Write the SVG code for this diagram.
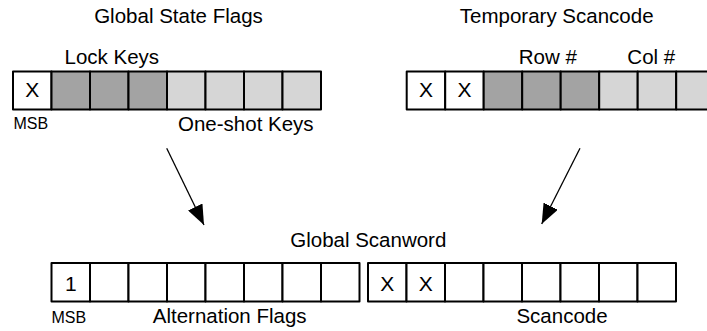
<svg xmlns="http://www.w3.org/2000/svg" width="707" height="331" viewBox="0 0 707 331">
  <style>
    text { font-family: "Liberation Sans", Arial, Helvetica, sans-serif; fill: #000; }
    .lbl { font-size: 20.5px; }
    .bit { font-size: 21px; text-anchor: middle; }
    .msb { font-size: 16px; }
    .mid { text-anchor: middle; }
    .cell { stroke: #000; stroke-width: 2; stroke-linejoin: round; }
    .w { fill: #fff; }
    .dk { fill: #a3a3a3; }
    .lt { fill: #d6d6d6; }
    .arrow { stroke: #000; stroke-width: 1.3; fill: none; marker-end: url(#head); }
  </style>
  <defs>
    <marker id="head" markerUnits="userSpaceOnUse" markerWidth="21" markerHeight="16" refX="20" refY="8" orient="auto">
      <path d="M0,0 L20,8 L0,16 z" fill="#000"/>
    </marker>
  </defs>
  <rect width="707" height="331" fill="#fff"/>

  <!-- Global State Flags register -->
  <g id="global-state-flags">
    <text class="lbl mid" x="178.5" y="22.7">Global State Flags</text>
    <text class="lbl" x="64.5" y="64">Lock Keys</text>
    <rect class="cell w"  x="13"    y="71.5" width="38.5" height="38"/>
    <rect class="cell dk" x="51.5"  y="71.5" width="38.5" height="38"/>
    <rect class="cell dk" x="90"    y="71.5" width="38.5" height="38"/>
    <rect class="cell dk" x="128.5" y="71.5" width="38.5" height="38"/>
    <rect class="cell lt" x="167"   y="71.5" width="38.5" height="38"/>
    <rect class="cell lt" x="205.5" y="71.5" width="38.5" height="38"/>
    <rect class="cell lt" x="244"   y="71.5" width="38.5" height="38"/>
    <rect class="cell lt" x="282.5" y="71.5" width="38.5" height="38"/>
    <text class="bit" x="32.2" y="97.3">X</text>
    <text class="msb" x="13.5" y="129.3">MSB</text>
    <text class="lbl" x="178" y="130.7">One-shot Keys</text>
  </g>

  <!-- Temporary Scancode register -->
  <g id="temporary-scancode">
    <text class="lbl mid" x="556.7" y="22.7">Temporary Scancode</text>
    <text class="lbl mid" x="547.8" y="64">Row #</text>
    <text class="lbl mid" x="651.3" y="64">Col #</text>
    <rect class="cell w"  x="406.7" y="71.5" width="38.5" height="38"/>
    <rect class="cell w"  x="445.2" y="71.5" width="38.5" height="38"/>
    <rect class="cell dk" x="483.7" y="71.5" width="38.5" height="38"/>
    <rect class="cell dk" x="522.2" y="71.5" width="38.5" height="38"/>
    <rect class="cell dk" x="560.7" y="71.5" width="38.5" height="38"/>
    <rect class="cell lt" x="599.2" y="71.5" width="38.5" height="38"/>
    <rect class="cell lt" x="637.7" y="71.5" width="38.5" height="38"/>
    <rect class="cell lt" x="676.2" y="71.5" width="38.5" height="38"/>
    <text class="bit" x="426" y="97.3">X</text>
    <text class="bit" x="464.5" y="97.3">X</text>
  </g>

  <!-- Global Scanword register -->
  <g id="global-scanword">
    <text class="lbl mid" x="368.3" y="246.7">Global Scanword</text>
    <rect class="cell w" x="51.5"  y="263" width="38.5" height="38.5"/>
    <rect class="cell w" x="90"    y="263" width="38.5" height="38.5"/>
    <rect class="cell w" x="128.5" y="263" width="38.5" height="38.5"/>
    <rect class="cell w" x="167"   y="263" width="38.5" height="38.5"/>
    <rect class="cell w" x="205.5" y="263" width="38.5" height="38.5"/>
    <rect class="cell w" x="244"   y="263" width="38.5" height="38.5"/>
    <rect class="cell w" x="282.5" y="263" width="38.5" height="38.5"/>
    <rect class="cell w" x="321"   y="263" width="38.5" height="38.5"/>
    <rect class="cell w" x="368"   y="263" width="38.5" height="38.5"/>
    <rect class="cell w" x="406.5" y="263" width="38.5" height="38.5"/>
    <rect class="cell w" x="445"   y="263" width="38.5" height="38.5"/>
    <rect class="cell w" x="483.5" y="263" width="38.5" height="38.5"/>
    <rect class="cell w" x="522"   y="263" width="38.5" height="38.5"/>
    <rect class="cell w" x="560.5" y="263" width="38.5" height="38.5"/>
    <rect class="cell w" x="599"   y="263" width="38.5" height="38.5"/>
    <rect class="cell w" x="637.5" y="263" width="38.5" height="38.5"/>
    <text class="bit" x="70.8" y="290.7">1</text>
    <text class="bit" x="387.3" y="290.7">X</text>
    <text class="bit" x="425.8" y="290.7">X</text>
    <text class="msb" x="51.5" y="322.7">MSB</text>
    <text class="lbl mid" x="229.7" y="322.5">Alternation Flags</text>
    <text class="lbl mid" x="562" y="322.7">Scancode</text>
  </g>

  <!-- connectors -->
  <g id="connectors">
    <line class="arrow" x1="166.7" y1="148.3" x2="204" y2="225"/>
    <line class="arrow" x1="580" y1="148.3" x2="541.7" y2="224"/>
  </g>
</svg>
